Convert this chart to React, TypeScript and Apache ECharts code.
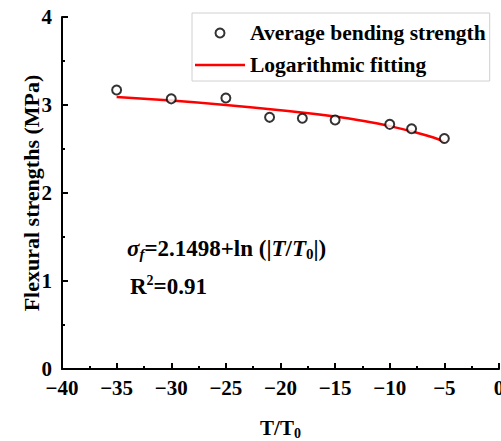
import React, { useEffect, useRef } from 'react';
import * as echarts from 'echarts';

const measuredT = [-35, -30, -25, -21, -18, -15, -10, -8, -5];
const measuredStrength = [3.17, 3.07, 3.08, 2.86, 2.85, 2.83, 2.78, 2.73, 2.62];

// Logarithmic fitting curve
const fitT = [-35, -30, -25, -20, -15, -12, -10, -8, -6, -5];
const fitStrength = [3.09, 3.05, 3.0, 2.94, 2.87, 2.81, 2.76, 2.7, 2.63, 2.58];

const seriesNames = ['Average bending strength', 'Logarithmic fitting'];
const xRange = [-40, 0];
const yRange = [0, 4];

const FONT = "'Times New Roman', 'Liberation Serif', serif";

export default function App() {
  const ref = useRef<HTMLDivElement>(null);
  useEffect(() => {
    document.body.style.margin = '0';
    if (!ref.current) return;
    const chart = echarts.init(ref.current, undefined, { renderer: 'svg' });
    const axisLabelStyle = {
      color: '#000',
      fontFamily: FONT,
      fontWeight: 'bold',
      fontSize: 21,
    };
    const n = { fontFamily: FONT, fontWeight: 'bold', fontSize: 23, fill: '#000' };
    chart.setOption({
      animation: false,
      backgroundColor: '#fff',
      textStyle: { fontFamily: FONT },
      grid: {
        left: 62,
        right: 2,
        top: 17,
        bottom: 72,
        outerBoundsMode: 'none',
        containLabel: false,
      },
      legend: {
        orient: 'vertical',
        left: 192,
        top: 13,
        padding: [9, 4, 5, 3],
        itemWidth: 50,
        itemHeight: 9,
        itemGap: 10,
        borderColor: '#d0d0d0',
        borderWidth: 1,
        data: [
          { name: seriesNames[0], icon: 'emptyCircle' },
          { name: seriesNames[1], icon: 'path://M0,0 L50,0 L50,2.5 L0,2.5 Z' },
        ],
        textStyle: {
          color: '#000',
          fontFamily: FONT,
          fontWeight: 'bold',
          fontSize: 21.5,
        },
      },
      xAxis: {
        type: 'value',
        min: xRange[0],
        max: xRange[1],
        interval: 5,
        name: '{a|T/T}{s|0}',
        nameLocation: 'middle',
        nameGap: 47,
        nameMoveOverlap: false,
        nameTextStyle: {
          rich: {
            a: { fontFamily: FONT, fontWeight: 'bold', fontSize: 21, color: '#000' },
            s: {
              fontFamily: FONT,
              fontWeight: 'bold',
              fontSize: 14,
              color: '#000',
              verticalAlign: 'bottom',
              padding: [10, 0, 0, 0],
            },
          },
        },
        splitLine: { show: false },
        axisLine: { onZero: false, lineStyle: { color: '#000', width: 2 } },
        axisTick: { inside: true, length: 6, lineStyle: { color: '#000', width: 2 } },
        minorTick: { show: true, splitNumber: 2, length: 3, lineStyle: { color: '#000', width: 2 } },
        axisLabel: {
          ...axisLabelStyle,
          margin: 8,
          formatter: (v: number) => (v < 0 ? '\u2212' + Math.abs(v) : String(v)),
        },
      },
      yAxis: {
        type: 'value',
        min: yRange[0],
        max: yRange[1],
        interval: 1,
        name: 'Flexural strengths (MPa)',
        nameLocation: 'middle',
        nameGap: 20,
        nameMoveOverlap: false,
        nameTextStyle: {
          color: '#000',
          fontFamily: FONT,
          fontWeight: 'bold',
          fontSize: 22,
        },
        splitLine: { show: false },
        axisLine: { onZero: false, lineStyle: { color: '#000', width: 2 } },
        axisTick: { inside: true, length: 6, lineStyle: { color: '#000', width: 2 } },
        minorTick: { show: true, splitNumber: 2, length: 3, lineStyle: { color: '#000', width: 2 } },
        axisLabel: { ...axisLabelStyle, margin: 10 },
      },
      graphic: [
        {
          type: 'text',
          left: 127,
          top: 237,
          style: {
            text: '{i|σ}{sf|f}{n|=2.1498+ln (|}{i|T}{n|/}{i|T}{s0|0}{n||)}',
            rich: {
              i: { ...n, fontStyle: 'italic' },
              n,
              sf: {
                ...n,
                fontStyle: 'italic',
                fontSize: 15,
                verticalAlign: 'bottom',
                padding: [11, 0, 0, 0],
              },
              s0: {
                ...n,
                fontSize: 15,
                verticalAlign: 'bottom',
                padding: [11, 0, 0, 0],
              },
            },
          },
        },
        {
          type: 'text',
          left: 130,
          top: 273,
          style: {
            text: '{n|R}{p|2}{n|=0.91}',
            rich: {
              n,
              p: {
                ...n,
                fontSize: 14,
                verticalAlign: 'top',
                padding: [0, 0, 12, 0],
              },
            },
          },
        },
      ],
      series: [
        {
          name: seriesNames[0],
          type: 'scatter',
          symbol: 'emptyCircle',
          symbolSize: 9,
          itemStyle: { color: '#000', borderColor: '#000', borderWidth: 1.8 },
          data: measuredT.map((t, i) => [t, measuredStrength[i]]),
          z: 3,
        },
        {
          name: seriesNames[1],
          type: 'line',
          smooth: true,
          symbol: 'none',
          showSymbol: false,
          color: '#ff0000',
          itemStyle: { color: '#ff0000' },
          lineStyle: { color: '#ff0000', width: 2.5 },
          data: fitT.map((t, i) => [t, fitStrength[i]]),
          z: 2,
        },
      ],
    });
    return () => chart.dispose();
  }, []);
  return <div ref={ref} style={{ width: 501, height: 441 }} />;
}
